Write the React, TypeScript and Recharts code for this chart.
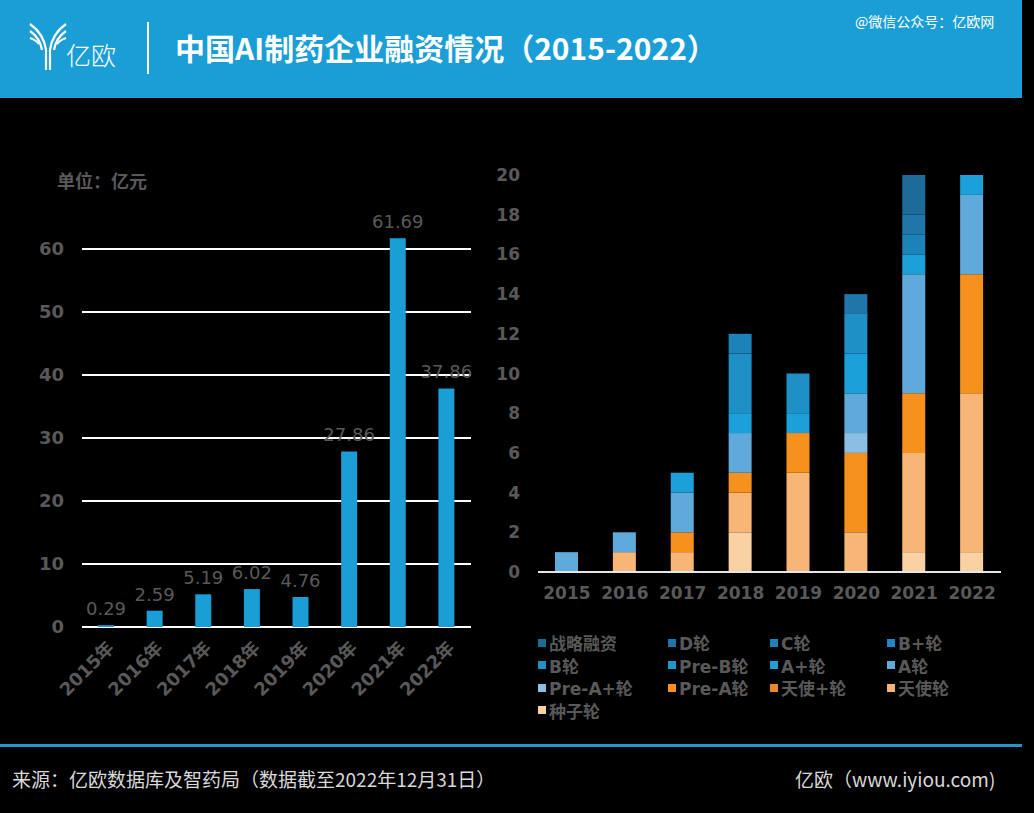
import { BarChart, Bar, XAxis, YAxis, CartesianGrid, LabelList } from "recharts";

const years = ["2015", "2016", "2017", "2018", "2019", "2020", "2021", "2022"];
const yearLabels = ["2015年", "2016年", "2017年", "2018年", "2019年", "2020年", "2021年", "2022年"];
// 融资金额（亿元）
const amounts = [0.29, 2.59, 5.19, 6.02, 4.76, 27.86, 61.69, 37.86];
const amountTicks = [0, 10, 20, 30, 40, 50, 60];

// 融资事件数，按轮次
const seed = [0, 0, 0, 2, 0, 0, 1, 1];
const angel = [0, 1, 1, 2, 5, 2, 5, 8];
const angelPlus = [0, 0, 0, 0, 0, 0, 0, 0];
const preA = [0, 0, 1, 1, 2, 4, 3, 6];
const preAPlus = [0, 0, 0, 0, 0, 1, 0, 0];
const roundA = [1, 1, 2, 2, 0, 2, 6, 4];
const aPlus = [0, 0, 1, 1, 1, 2, 1, 1];
const preB = [0, 0, 0, 0, 0, 0, 0, 0];
const roundB = [0, 0, 0, 3, 2, 2, 0, 0];
const bPlus = [0, 0, 0, 0, 0, 0, 0, 0];
const roundC = [0, 0, 0, 1, 0, 0, 1, 0];
const roundD = [0, 0, 0, 0, 0, 1, 1, 0];
const strategic = [0, 0, 0, 0, 0, 0, 2, 0];
const countTicks = [0, 2, 4, 6, 8, 10, 12, 14, 16, 18, 20];

// bottom of stack first
const rounds = [
  { key: "seed", name: "种子轮", values: seed, color: "#F9D1A3" },
  { key: "angel", name: "天使轮", values: angel, color: "#F8B676" },
  { key: "angelPlus", name: "天使+轮", values: angelPlus, color: "#EE8729" },
  { key: "preA", name: "Pre-A轮", values: preA, color: "#F7911E" },
  { key: "preAPlus", name: "Pre-A+轮", values: preAPlus, color: "#8BBEE2" },
  { key: "a", name: "A轮", values: roundA, color: "#5FA9DB" },
  { key: "aPlus", name: "A+轮", values: aPlus, color: "#1BA0DA" },
  { key: "preB", name: "Pre-B轮", values: preB, color: "#1C98D1" },
  { key: "b", name: "B轮", values: roundB, color: "#1E90C5" },
  { key: "bPlus", name: "B+轮", values: bPlus, color: "#1D89C3" },
  { key: "c", name: "C轮", values: roundC, color: "#1D82B8" },
  { key: "d", name: "D轮", values: roundD, color: "#1F77A9" },
  { key: "strategic", name: "战略融资", values: strategic, color: "#1C6B98" },
];

const GRAY = "#595959";
const FONT = "'DejaVu Sans', 'Noto Sans CJK SC', sans-serif";
const CJK = "'Noto Sans CJK SC', sans-serif";

const leftData = years.map((y, i) => ({ label: yearLabels[i], total: amounts[i] }));
const rightData = years.map((y, i) => {
  const row: Record<string, any> = { year: y };
  rounds.forEach((r) => (row[r.key] = r.values[i]));
  return row;
});

const Logo = () => (
  <svg width={40} height={52} style={{ position: "absolute", left: 28, top: 20 }}>
    <g fill="none" stroke="#fff" strokeWidth={2.2}>
      <path d="M18 50 L18 30 Q16 14 2 4" />
      <path d="M22 50 L22 30 Q24 14 38 4" />
      <path d="M14 30 Q12 18 2 11" />
      <path d="M26 30 Q28 18 38 11" />
      <path d="M11 24 Q8 20 2 18" />
      <path d="M29 24 Q32 20 38 18" />
    </g>
  </svg>
);

export default function App() {
  const legendOrder = [...rounds].reverse();
  const colX = [538, 668, 770, 887];
  return (
    <div style={{ position: "absolute", left: 0, top: 0, width: 1034, height: 813, background: "#000", overflow: "hidden", fontFamily: FONT }}>
      {/* header */}
      <div style={{ position: "absolute", left: 0, top: 0, width: 1022, height: 98, background: "#1A9ED5" }} />
      <Logo />
      <div style={{ position: "absolute", left: 66, top: 36, color: "#fff", fontFamily: CJK, fontSize: 25, fontWeight: 300 }}>亿欧</div>
      <div style={{ position: "absolute", left: 147, top: 22, width: 2, height: 52, background: "#fff" }} />
      <div style={{ position: "absolute", left: 175, top: 25, color: "#fff", fontFamily: CJK, fontSize: 30, fontWeight: 700, whiteSpace: "nowrap" }}>
        中国AI制药企业融资情况（2015-2022）
      </div>
      <div style={{ position: "absolute", left: 855, top: 11, color: "#fff", fontFamily: CJK, fontSize: 14, whiteSpace: "nowrap" }}>
        @微信公众号：亿欧网
      </div>

      {/* left chart */}
      <div style={{ position: "absolute", left: 57, top: 167, color: GRAY, fontFamily: CJK, fontSize: 18, fontWeight: 700 }}>单位：亿元</div>
      <div style={{ position: "absolute", left: 0, top: 150 }}>
        <BarChart width={490} height={570} data={leftData} margin={{ top: 36, right: 19, left: 0, bottom: 13 }}>
          <CartesianGrid horizontal vertical={false} horizontalValues={amountTicks} stroke="#ffffff" strokeWidth={2} />
          <XAxis
            dataKey="label"
            height={80}
            interval={0}
            angle={-45}
            textAnchor="end"
            axisLine={false}
            tickLine={false}
            tickMargin={7}
            tick={{ fill: GRAY, fontSize: 18, fontWeight: 700, fontFamily: FONT }}
          />
          <YAxis
            width={82}
            domain={[0, 70]}
            ticks={amountTicks}
            axisLine={false}
            tickLine={false}
            tickMargin={12}
            tick={{ fill: GRAY, fontSize: 18, fontWeight: 700, fontFamily: FONT }}
          />
          <Bar dataKey="total" fill="#1A9ED5" barSize={16} isAnimationActive={false}>
            <LabelList
              dataKey="total"
              position="top"
              offset={10}
              fill={GRAY}
              fontSize={18}
              fontFamily={FONT}
              formatter={(v: any) => Number(v).toFixed(2)}
            />
          </Bar>
        </BarChart>
      </div>

      {/* right chart */}
      <div style={{ position: "absolute", left: 480, top: 150 }}>
        <BarChart width={540} height={470} data={rightData} margin={{ top: 25, right: 19, left: 0, bottom: 13 }}>
          <XAxis
            dataKey="year"
            height={35}
            interval={0}
            stroke="#e6e6e6"
            strokeWidth={2}
            tickLine={false}
            tickMargin={9}
            tick={{ fill: GRAY, fontSize: 17, fontWeight: 700, fontFamily: FONT }}
          />
          <YAxis
            width={58}
            domain={[0, 20]}
            ticks={countTicks}
            axisLine={false}
            tickLine={false}
            tickMargin={12}
            tick={{ fill: GRAY, fontSize: 17, fontWeight: 700, fontFamily: FONT }}
          />
          {rounds.map((r) => (
            <Bar key={r.key} dataKey={r.key} name={r.name} stackId="rounds" fill={r.color} barSize={23} isAnimationActive={false} />
          ))}
        </BarChart>
      </div>

      {/* legend */}
      {legendOrder.map((r, i) => (
        <div
          key={r.key}
          style={{
            position: "absolute",
            left: colX[i % 4],
            top: 630 + Math.floor(i / 4) * 22.5,
            display: "flex",
            alignItems: "center",
            color: GRAY,
            fontSize: 17,
            fontWeight: 700,
            fontFamily: FONT,
            whiteSpace: "nowrap",
          }}
        >
          <span style={{ display: "inline-block", width: 8, height: 8, background: r.color, marginRight: 3 }} />
          {r.name}
        </div>
      ))}

      {/* footer */}
      <div style={{ position: "absolute", left: 0, top: 744, width: 1022, height: 3, background: "#2495C6" }} />
      <div style={{ position: "absolute", left: 12, top: 765, color: "#d9d9d9", fontFamily: CJK, fontSize: 19, whiteSpace: "nowrap" }}>
        来源：亿欧数据库及智药局（数据截至2022年12月31日）
      </div>
      <div style={{ position: "absolute", left: 795, top: 765, color: "#d9d9d9", fontFamily: CJK, fontSize: 19, whiteSpace: "nowrap" }}>
        亿欧（www.iyiou.com)
      </div>
    </div>
  );
}
